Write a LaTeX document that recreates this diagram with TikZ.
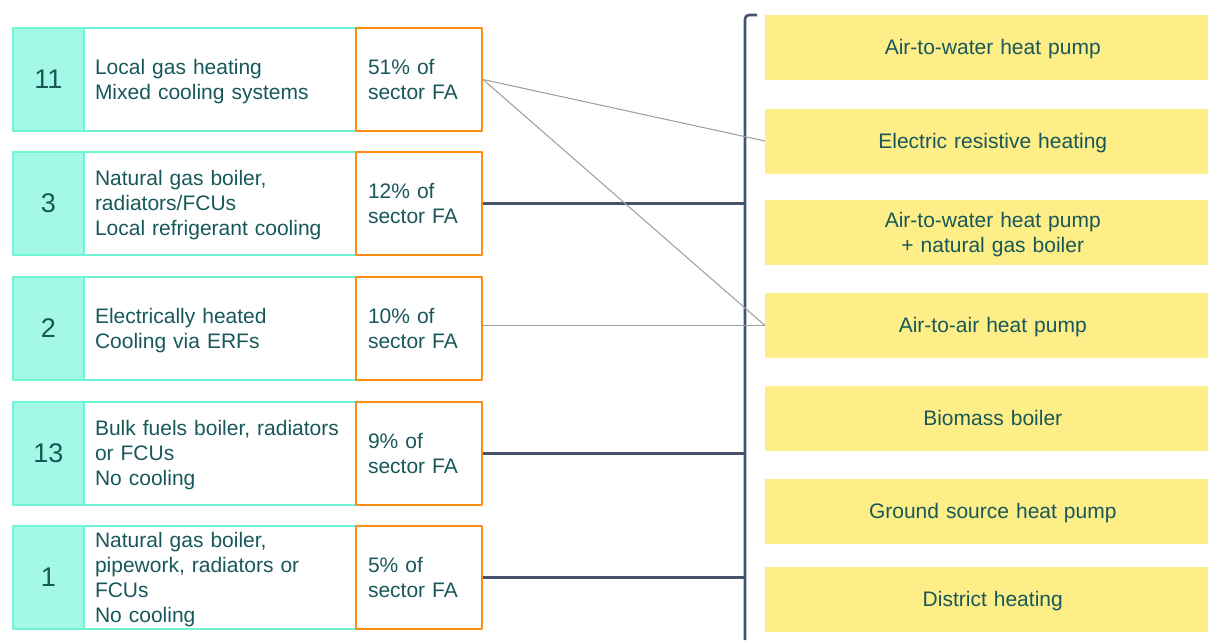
\documentclass[tikz,border=0pt]{standalone}
\usepackage{fontspec}
\setmainfont{Liberation Sans}
\definecolor{txtcol}{RGB}{24,88,90}
\definecolor{numfill}{RGB}{163,248,230}
\definecolor{numline}{RGB}{110,244,214}
\definecolor{pctline}{RGB}{255,140,20}
\definecolor{optfill}{RGB}{253,238,135}
\definecolor{darkline}{RGB}{68,84,106}
\definecolor{greyline}{RGB}{160,160,160}
\begin{document}
\begin{tikzpicture}[x=0.75pt,y=-0.75pt,line join=round,
  font=\fontsize{15.75}{18.75}\selectfont,text=txtcol,
  lowtext/.style={execute at begin node={\rule{0pt}{14.25pt}},
    execute at end node={\rule[-3.34pt]{0pt}{0pt}}},
  numcell/.style={draw=numline,fill=numfill,line width=1.5pt,anchor=west,inner sep=0pt,
    minimum width=53.25pt,minimum height=77.25pt,font=\fontsize{20.25}{22}\selectfont},
  txtcell/.style={draw=numline,fill=white,line width=1.5pt,anchor=west,inner xsep=8.25pt,
    inner ysep=0pt,text width=187.5pt,align=left,minimum height=77.25pt,lowtext},
  pctcell/.style={draw=pctline,fill=white,line width=1.5pt,anchor=west,inner xsep=9pt,
    inner ysep=0pt,text width=76.5pt,align=left,minimum height=77.25pt,lowtext},
  optbox/.style={fill=optfill,anchor=west,text width=300pt,align=center,
    minimum width=341.25pt,minimum height=48.75pt,lowtext},
  link/.style={darkline,line width=2pt},
  thinlink/.style={greyline,line width=0.8pt}]
\useasboundingbox (0,0) rectangle (1208,640);
% left: buildings
\foreach \cy/\n/\t/\p [count=\i] in {
  79.5/11/{Local gas heating\\Mixed cooling systems}/51,
  203.5/3/{Natural gas boiler,\\radiators/FCUs\\Local refrigerant cooling}/12,
  328.5/2/{Electrically heated\\Cooling via ERFs}/10,
  453.5/13/{Bulk fuels boiler, radiators\\or FCUs\\No cooling}/9,
  577.5/1/{Natural gas boiler,\\pipework, radiators or\\FCUs\\No cooling}/5}
{
\node[numcell] (num\i) at (12,\cy) {\n};
\node[txtcell] (txt\i) at (83,\cy) {\t};
\node[pctcell] (pct\i) at (355,\cy) {\p\% of\\sector FA};
}
% right: options
\foreach \cy/\t [count=\i] in {
  47.5/{Air-to-water heat pump},
  141/{Electric resistive heating},
  232.5/{Air-to-water heat pump\\+ natural gas boiler},
  325.5/{Air-to-air heat pump},
  418.5/{Biomass boiler},
  511.5/{Ground source heat pump},
  599.5/{District heating}}
{
\node[optbox] (opt\i) at (765,\cy) {\t};
}
\coordinate (brk) at (745,15);
\draw[link,rounded corners=3pt] (757,15) -- (brk) -- (745,640);
\foreach \i in {2,4,5}
{
\draw[link] (pct\i.east) -- (pct\i.east -| brk);
}
\draw[thinlink] (pct1.east) -- (opt2.west);
\draw[thinlink] (pct1.east) -- (opt4.west);
\draw[thinlink] (pct3.east |- opt4.west) -- (opt4.west);
\end{tikzpicture}
\end{document}
